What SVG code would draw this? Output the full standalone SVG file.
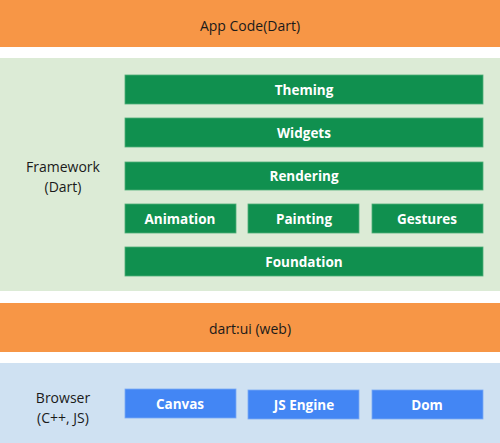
<svg xmlns="http://www.w3.org/2000/svg" width="500" height="443" viewBox="0 0 500 443">
<style>
.orange{fill:#F79646;}
.panelG{fill:#DCEBD6;}
.panelB{fill:#CFE1F2;}
.bar{fill:#10904F;stroke:#4FAE78;stroke-width:0.8;}
.blue{fill:#4386F4;stroke:#7AAAF6;stroke-width:0.8;}
.lbl{font-family:"Open Sans","Liberation Sans",sans-serif;font-size:14px;fill:#1a1a1a;text-anchor:middle;dominant-baseline:central;}
.wl{font-family:"Open Sans","Liberation Sans",sans-serif;font-size:13.5px;font-weight:bold;fill:#ffffff;text-anchor:middle;dominant-baseline:central;}
</style>
<rect width="500" height="443" fill="#ffffff"/>
<g id="appcode">
<rect class="orange" x="0" y="0" width="500" height="47"/>
<text class="lbl" x="250" y="25">App Code(Dart)</text>
</g>
<g id="framework">
<rect class="panelG" x="0" y="58" width="500" height="233"/>
<text class="lbl" x="63" y="166">Framework</text>
<text class="lbl" x="63" y="186">(Dart)</text>
</g>
<g id="theming"><rect class="bar" x="125" y="75" width="358" height="29"/><text class="wl" x="304" y="90">Theming</text></g>
<g id="widgets"><rect class="bar" x="125" y="118" width="358" height="29"/><text class="wl" x="304" y="133">Widgets</text></g>
<g id="rendering"><rect class="bar" x="125" y="162" width="358" height="28"/><text class="wl" x="304" y="176">Rendering</text></g>
<g id="animation"><rect class="bar" x="125" y="204" width="111" height="29"/><text class="wl" x="180" y="219">Animation</text></g>
<g id="painting"><rect class="bar" x="248" y="204" width="111" height="29"/><text class="wl" x="304" y="219">Painting</text></g>
<g id="gestures"><rect class="bar" x="372" y="204" width="111" height="29"/><text class="wl" x="427" y="219">Gestures</text></g>
<g id="foundation"><rect class="bar" x="125" y="247" width="358" height="29"/><text class="wl" x="304" y="262">Foundation</text></g>
<g id="dartui">
<rect class="orange" x="0" y="303" width="500" height="49"/>
<text class="lbl" x="250" y="328">dart:ui (web)</text>
</g>
<g id="browser">
<rect class="panelB" x="0" y="363" width="500" height="80"/>
<text class="lbl" x="63" y="397">Browser</text>
<text class="lbl" x="63" y="417">(C++, JS)</text>
</g>
<g id="canvas"><rect class="blue" x="125" y="389" width="111" height="29"/><text class="wl" x="180" y="404">Canvas</text></g>
<g id="jsengine"><rect class="blue" x="248" y="390" width="111" height="29"/><text class="wl" x="304" y="405">JS Engine</text></g>
<g id="dom"><rect class="blue" x="372" y="390" width="111" height="29"/><text class="wl" x="427" y="405">Dom</text></g>
<g id="connectors"></g>
</svg>
